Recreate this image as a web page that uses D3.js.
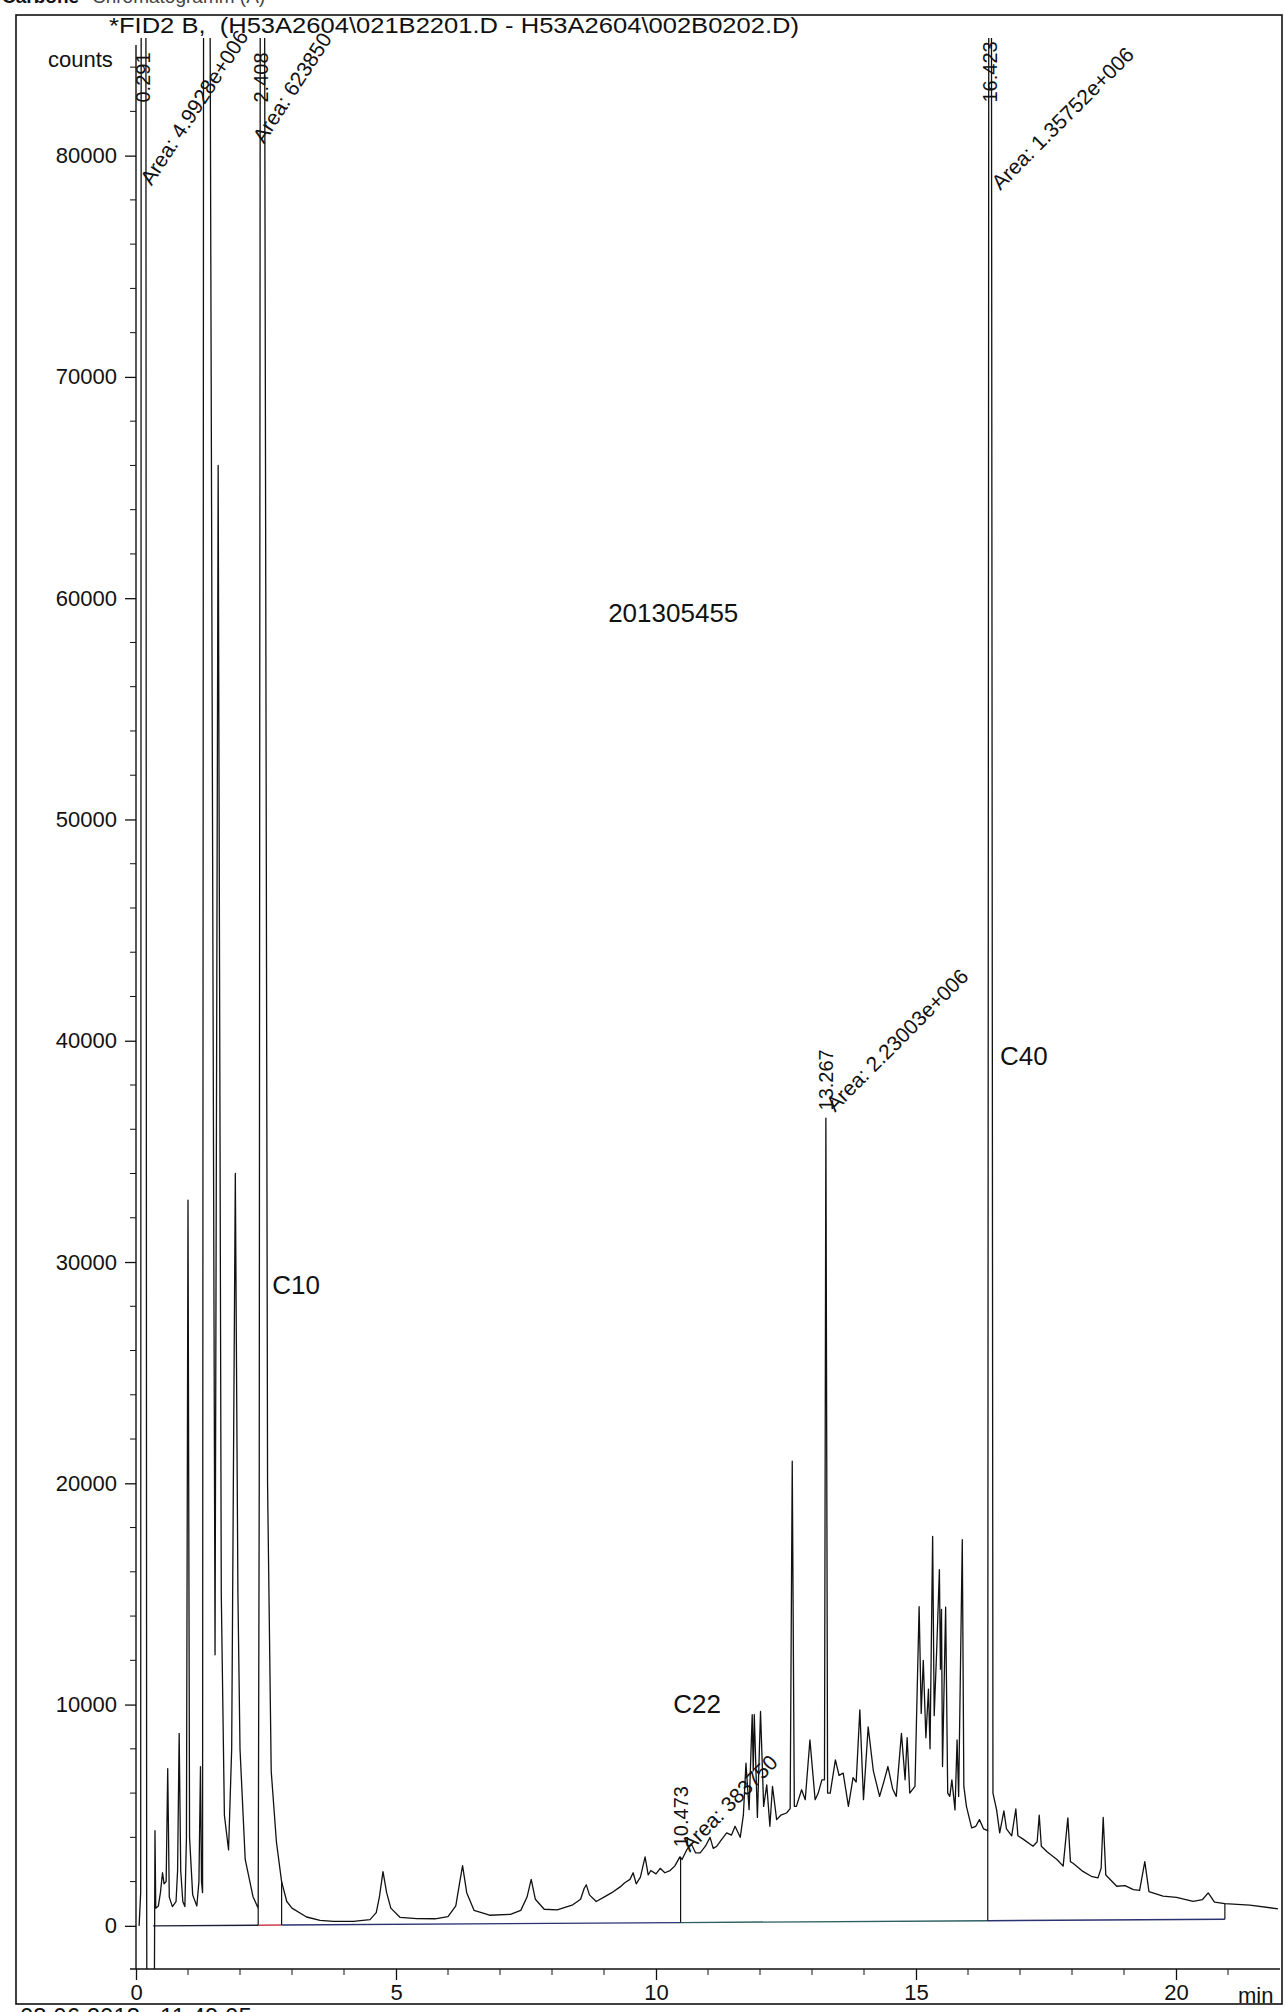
<!DOCTYPE html>
<html>
<head>
<meta charset="utf-8">
<script src="https://cdn.jsdelivr.net/npm/d3@7"></script>
<style>
  body { margin: 0; background: #fff; }
  svg { display: block; font-family: "Liberation Sans", Arial, sans-serif; }
  text { white-space: pre; }
</style>
</head>
<body>
<svg id="chart" width="1285" height="2012"></svg>
<script>
/* ===== FID2 B chromatogram (counts vs min) ===== */

// trace, [min, counts]; 90000 = off scale, -5000 = below axis
const solventTrace = [
  [0.06,0],[0.09,1500],[0.10,90000],[0.19,90000],[0.205,2000],[0.21,-5000],[0.35,-5000],[0.365,4300],
  [0.38,800],[0.43,900],[0.47,1500],[0.51,2400],[0.54,1900],[0.58,2000],[0.61,7100],[0.64,1300],
  [0.70,870],[0.77,1100],[0.80,2500],[0.83,8700],[0.86,2500],[0.90,1100],[0.94,870],[0.97,4000],
  [1.00,32800],[1.03,4000],[1.09,1400],[1.17,900],[1.21,2000],[1.24,7200],[1.26,2000],[1.28,1500],
  [1.30,90000],[1.42,90000],[1.52,12250],[1.58,66000],[1.64,15000],[1.70,5000],[1.78,3430],
  [1.84,8000],[1.91,34000],[1.96,15000],[2.00,8000],[2.10,3000],[2.25,1320],[2.35,800]
];
const earlyTrace = [
  [2.37,20000],[2.39,90000],[2.47,90000],[2.53,20000],[2.60,7000],[2.70,3800],[2.80,2000],[2.90,1100],
  [3.00,800],[3.28,400],[3.54,250],[3.80,200],[4.18,200],[4.50,280],[4.62,600],[4.68,1300],[4.75,2450],
  [4.82,1500],[4.90,800],[5.08,380],[5.40,330],[5.75,320],[6.00,420],[6.15,900],[6.22,1900],[6.28,2720],
  [6.36,1500],[6.50,700],[6.80,480],[7.20,520],[7.40,700],[7.52,1300],[7.60,2100],[7.68,1200],[7.85,750],
  [8.10,720],[8.40,950],[8.55,1200],[8.62,1700],[8.66,1850],[8.72,1400],[8.85,1100],[9.00,1300],
  [9.15,1500],[9.31,1760]
];
const humpTrace = [
  [9.40,1950],[9.50,2100],[9.56,2400],[9.62,1900],[9.70,2200],[9.79,3120],[9.85,2300],[9.90,2500],
  [10.00,2350],[10.08,2600],[10.17,2400],[10.27,2500],[10.36,2700],[10.46,3120],[10.50,3000],[10.59,3430],
  [10.68,3700],[10.76,3300],[10.85,3300],[10.95,3600],[11.04,4000],[11.10,3500],[11.17,3600],[11.26,3900],
  [11.36,4200],[11.45,4100],[11.52,4500],[11.62,4000],[11.68,5000],[11.73,7350],[11.79,5250],[11.85,9540],
  [11.87,7000],[11.89,9540],[11.95,4900],[12.01,9690],[12.07,5400],[12.13,6370],[12.19,4500],[12.24,6300],
  [12.32,4800],[12.40,5000],[12.51,5100],[12.58,5300],[12.62,21000],[12.66,5400],[12.70,5400],[12.80,6150],
  [12.87,5700],[12.96,8400],[13.06,5700],[13.12,6000],[13.19,6600],[13.24,6600],[13.267,36500],[13.30,6000],
  [13.35,6000],[13.45,7500],[13.52,6800],[13.60,6900],[13.70,5400],[13.79,6700],[13.85,6500],[13.92,9760],
  [13.99,5700],[14.08,8990],[14.18,7000],[14.30,5850],[14.38,6500],[14.46,7200],[14.55,6200],[14.62,5850],
  [14.72,8700],[14.79,6600],[14.83,8500],[14.88,6000],[14.98,6300],[15.06,14430],[15.10,9600],[15.14,12000],
  [15.19,8500],[15.24,10700],[15.27,8000],[15.32,17600],[15.35,9500],[15.40,12600],[15.45,16100],
  [15.47,11600],[15.49,14300],[15.51,7200],[15.57,14400],[15.61,6000],[15.65,5850],[15.69,6600],
  [15.75,5240],[15.79,8400],[15.82,5850],[15.89,17450],[15.92,6300],[15.97,5400],[16.07,4430],
  [16.15,4500],[16.22,4800],[16.30,4380],[16.38,4300]
];
const lateTrace = [
  [16.40,90000],[16.45,90000],[16.48,6000],[16.55,5240],[16.61,4200],[16.69,5200],[16.74,4380],
  [16.84,4070],[16.92,5280],[16.96,4070],[17.06,3920],[17.25,3600],[17.33,3800],[17.37,5000],[17.41,3600],
  [17.52,3350],[17.71,3000],[17.83,2700],[17.92,4880],[17.97,2900],[18.02,2830],[18.21,2460],[18.37,2240],
  [18.50,2170],[18.56,2600],[18.60,4900],[18.65,2300],[18.86,1790],[19.02,1820],[19.18,1640],[19.30,1600],
  [19.40,2900],[19.48,1550],[19.75,1340],[20.01,1290],[20.33,1110],[20.51,1190],[20.62,1490],[20.74,1070],
  [20.94,1000],[21.42,940],[21.96,770]
];

// integration baseline pieces [from, to, colour] and drop lines [min, counts at trace]
const baseStart = [0.33, 0], baseEnd = [20.94, 300];
const baseSegments = [[0.33, 2.35, "#1b1f3a"], [2.35, 2.80, "#c9404e"], [2.80, 10.473, "#2a3270"],
                      [10.473, 16.38, "#2d5f63"], [16.38, 20.94, "#2a3270"]];
const dropLines = [[2.35, 800], [2.80, 2000], [10.473, 3120], [16.38, 4300], [20.94, 1000]];

// retention-time labels (vertical) and area labels
const rtText   = ["0.291", "2.408", "10.473", "13.267", "16.423"];
const rtTime   = [0.13, 2.41, 10.473, 13.267, 16.423];
const rtCounts = [82400, 82400, 3550, 36850, 82400];
const areaText   = ["Area: 4.9928e+006", "Area: 623850", "Area: 383750", "Area: 2.23003e+006", "Area: 1.35752e+006"];
const areaTime   = [0.30, 2.46, 10.65, 13.44, 16.62];
const areaCounts = [78600, 80500, 3300, 36750, 78400];
const areaAngle  = [-57, -57, -45, -45, -45];

// free annotations
const noteText   = ["201305455", "C10", "C22", "C40"];
const noteTime   = [9.08, 2.62, 10.33, 16.615];
const noteCounts = [58940, 28560, 9630, 38920];

const yMajor = [0, 10000, 20000, 30000, 40000, 50000, 60000, 70000, 80000];
const xMajor = [0, 5, 10, 15, 20];

const header = "*FID2 B,  (H53A2604\\021B2201.D - H53A2604\\002B0202.D)";
const pageTitle = ["Carbone", "Chromatogramm (A)"];
const pageFooter = "03.06.2013   11:49:05";

/* ---------- Setup ---------- */
const svg = d3.select("#chart");
const x = d3.scaleLinear().domain([0, 22]).range([136, 1280]);
const y = d3.scaleLinear().domain([-1950, 85000]).range([1969, 45]);
const ink = "#111";

// page header/footer, mostly cut off by the scan
svg.append("text").attr("x", 2).attr("y", 3).attr("font-size", 19).attr("font-weight", "bold")
  .attr("fill", ink).text(pageTitle[0]);
svg.append("text").attr("x", 92).attr("y", 3).attr("font-size", 19).attr("fill", "#444").text(pageTitle[1]);
svg.append("text").attr("x", 20).attr("y", 2025).attr("font-size", 24).attr("fill", ink).text(pageFooter);

// outer frame
svg.append("rect")
  .attr("x", 16).attr("y", 15).attr("width", 1266).attr("height", 1989)
  .attr("fill", "none").attr("stroke", ink).attr("stroke-width", 1.6);

svg.append("text")
  .attr("x", 109).attr("y", 33)
  .attr("font-size", 22).attr("fill", ink)
  .attr("textLength", 690).attr("lengthAdjust", "spacingAndGlyphs")
  .text(header);

/* ---------- Axes ---------- */
const yMinor = d3.range(2000, 85000, 2000).filter(v => v % 10000 !== 0);
const gy = svg.append("g").attr("transform", `translate(${x(0)},0)`);
gy.call(d3.axisLeft(y).tickValues(yMajor).tickSize(11).tickPadding(8).tickFormat(d3.format("d")));
gy.selectAll(".minor").data(yMinor).enter()
  .append("line").attr("class", "minor").attr("x1", -6).attr("x2", 0)
  .attr("y1", d => y(d)).attr("y2", d => y(d)).attr("stroke", ink);

const xMinor = d3.range(1, 22).filter(v => v % 5 !== 0);
const gx = svg.append("g").attr("transform", `translate(0,${y(-1950)})`);
gx.call(d3.axisBottom(x).tickValues(xMajor).tickSize(11).tickPadding(4));
gx.selectAll(".minor").data(xMinor).enter()
  .append("line").attr("class", "minor")
  .attr("x1", d => x(d)).attr("x2", d => x(d)).attr("y1", 0).attr("y2", 6).attr("stroke", ink);

for (const g of [gx, gy]){
  g.selectAll("path.domain").attr("stroke", ink).attr("stroke-width", 1.4);
  g.selectAll(".tick line").attr("stroke", ink).attr("stroke-width", 1.3);
  g.selectAll(".tick text").attr("font-size", 22).attr("fill", ink)
    .attr("font-family", "Liberation Sans, Arial, sans-serif");
}
gx.select("path.domain").attr("d", `M${x(0) - 6},0H${x(22)}`);
gy.select("path.domain").attr("d", `M0,${y(85000)}V${y(-1950)}`);

svg.append("text").attr("x", 48).attr("y", 67).attr("font-size", 22).attr("fill", ink).text("counts");
svg.append("text").attr("x", 1238).attr("y", 2003).attr("font-size", 22).attr("fill", ink).text("min");

/* ---------- Trace ---------- */
svg.append("clipPath").attr("id", "plotClip")
  .append("rect").attr("x", x(0)).attr("y", 38).attr("width", x(22) - x(0)).attr("height", y(-1950) - 38);

const plot = svg.append("g").attr("clip-path", "url(#plotClip)");

// integration baseline, straight from baseStart to baseEnd
const baseAt = t => baseStart[1] + (t - baseStart[0]) * (baseEnd[1] - baseStart[1]) / (baseEnd[0] - baseStart[0]);
plot.selectAll("line.base").data(baseSegments).join("line")
  .attr("class", "base")
  .attr("x1", d => x(d[0])).attr("x2", d => x(d[1]))
  .attr("y1", d => y(baseAt(d[0]))).attr("y2", d => y(baseAt(d[1])))
  .attr("stroke", d => d[2]).attr("stroke-width", 1.4);

plot.selectAll("line.drop").data(dropLines).join("line")
  .attr("class", "drop")
  .attr("x1", d => x(d[0])).attr("x2", d => x(d[0]))
  .attr("y1", d => y(d[1])).attr("y2", d => y(baseAt(d[0])))
  .attr("stroke", ink).attr("stroke-width", 1.2);

const trace = [...solventTrace, ...earlyTrace, ...humpTrace, ...lateTrace];
plot.append("path")
  .datum(trace)
  .attr("fill", "none").attr("stroke", ink).attr("stroke-width", 1.3).attr("stroke-linejoin", "round")
  .attr("d", d3.line().x(d => x(d[0])).y(d => y(d[1])));

/* ---------- Labels ---------- */
svg.selectAll("text.rt").data(rtText).join("text")
  .attr("class", "rt")
  .attr("transform", (d, i) => `translate(${x(rtTime[i])},${y(rtCounts[i])}) rotate(-90)`)
  .attr("dy", "0.35em").attr("font-size", 20).attr("fill", ink)
  .text(d => d);

svg.selectAll("text.area").data(areaText).join("text")
  .attr("class", "area")
  .attr("transform", (d, i) => `translate(${x(areaTime[i])},${y(areaCounts[i])}) rotate(${areaAngle[i]})`)
  .attr("font-size", 21).attr("fill", ink)
  .text(d => d);

svg.selectAll("text.note").data(noteText).join("text")
  .attr("class", "note")
  .attr("x", (d, i) => x(noteTime[i])).attr("y", (d, i) => y(noteCounts[i]))
  .attr("font-size", 26).attr("fill", ink)
  .text(d => d);
</script>
</body>
</html>
